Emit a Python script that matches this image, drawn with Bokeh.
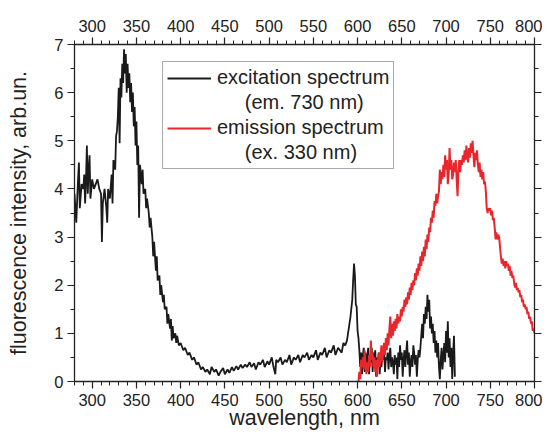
from bokeh.plotting import figure
from bokeh.models import LinearAxis, SingleIntervalTicker, Legend, LegendItem, Range1d
from bokeh.embed import file_html
from bokeh.resources import INLINE

# ---------------- data ----------------
exc_nm = [280, 282, 284, 285, 286, 288, 290, 291, 292, 293, 294, 295, 296, 297, 298, 300,
          302, 304, 306, 308, 310, 311, 312, 314, 316, 317, 318, 320, 322, 323, 324, 326,
          327, 328, 329, 330, 331, 332, 333, 334, 335, 336, 337, 338, 339, 340, 341, 342,
          343, 344, 345, 346, 347, 348, 349, 350, 351, 352, 353, 354, 356, 357, 358, 360,
          361, 362, 364, 365, 366, 368, 369, 370, 372, 373, 374, 376, 377, 378, 380, 381,
          382, 384, 385, 386, 388, 389, 390, 391, 392, 394, 395, 396, 398, 400, 403, 405,
          408, 410, 413, 415, 418, 420, 423, 425, 428, 430, 433, 435, 438, 440, 443, 445,
          448, 450, 453, 455, 458, 460, 463, 465, 468, 470, 473, 475, 478, 480, 483, 485,
          488, 490, 493, 495, 498, 500, 503, 505, 507, 508, 510, 513, 515, 518, 520, 523,
          525, 528, 530, 533, 535, 538, 540, 543, 545, 548, 550, 553, 555, 558, 560, 563,
          565, 568, 570, 573, 575, 578, 580, 582, 584, 586, 588, 590, 592, 594, 595, 596,
          597, 598, 599, 600] + list(range(601, 711))
exc_int = [3.9, 3.3, 4.2, 4.55, 3.6, 4.1, 4.0, 4.3, 3.7, 4.2, 4.9, 3.9, 4.4, 4.7, 3.8, 4.2,
           4.0, 4.1, 4.2, 4.0, 3.9, 2.9, 3.7, 4.0, 3.6, 3.3, 4.0, 3.8, 4.3, 3.7, 4.6, 4.4,
           5.1, 5.2, 5.5, 6.1, 4.95, 6.3, 5.9, 6.6, 6.2, 6.9, 6.4, 6.8, 6.0, 6.6, 6.1, 6.4,
           5.8, 6.2, 5.6, 6.0, 5.3, 5.7, 4.9, 5.4, 4.5, 4.9, 3.4, 4.5, 4.1, 4.4, 3.9, 4.0,
           3.6, 3.8, 3.5, 3.2, 3.4, 3.0, 2.6, 2.9, 2.3, 2.6, 2.1, 2.2, 1.8, 2.0, 1.65, 1.8,
           1.5, 1.55, 1.2, 1.4, 1.1, 1.3, 0.85, 1.15, 0.9, 1.0, 0.8, 0.95, 0.75, 0.8, 0.65, 0.7,
           0.55, 0.6, 0.45, 0.5, 0.35, 0.4, 0.25, 0.3, 0.2, 0.25, 0.15, 0.3, 0.2, 0.25, 0.12, 0.2,
           0.28, 0.15, 0.25, 0.18, 0.3, 0.22, 0.32, 0.25, 0.35, 0.28, 0.35, 0.3, 0.4, 0.3, 0.38, 0.25,
           0.4, 0.35, 0.45, 0.3, 0.42, 0.35, 0.5, 0.3, 0.15, 0.45, 0.4, 0.5, 0.35, 0.45, 0.4, 0.55,
           0.35, 0.5, 0.45, 0.55, 0.4, 0.55, 0.5, 0.6, 0.45, 0.55, 0.5, 0.65, 0.45, 0.6, 0.55, 0.7,
           0.5, 0.65, 0.6, 0.75, 0.55, 0.7, 0.65, 0.6, 0.8, 0.75, 0.85, 1.1, 1.35, 1.7, 2.1, 2.45,
           2.2, 1.6, 1.55, 1.05,
           0.9, 0.65, 0.3, 0.6, 0.15, 0.55, 0.7, 0.2, 0.6, 0.25,
           0.5, 0.7, 0.15, 0.55, 0.4, 0.7, 0.2, 0.6, 0.45, 0.65,
           0.1, 0.5, 0.4, 0.6, 0.15, 0.5, 0.3, 0.6, 0.45, 0.65,
           0.2, 0.5, 0.45, 0.6, 0.25, 0.55, 0.7, 0.3, 0.5, 0.4,
           0.15, 0.55, 0.35, 0.5, 0.05, 0.6, 0.3, 0.75, 0.45, 0.6,
           0.1, 0.45, 0.65, 0.3, 0.6, 0.85, 0.35, 0.6, 0.1, 0.4,
           0.55, 0.3, 0.75, 0.6, 0.35, 0.55, 0.1, 0.45, 0.65, 0.5,
           0.7, 0.95, 1.2, 0.9, 1.4, 1.2, 1.55, 1.3, 1.8, 1.45,
           1.7, 1.1, 1.35, 1.0, 1.2, 0.8, 1.05, 0.6, 0.85, 0.5,
           0.8, 0.3, 0.05, 0.45, 0.7, 0.25, 0.55, 0.8, 0.4, 1.05,
           0.6, 1.25, 0.5, 0.9, 0.3, 0.7, 0.05, 0.6, 0.95, 0.1]

emi_nm = list(range(601, 801))
emi_int = [0.0, 0.2, 0.05, 0.45, 0.3, 0.5, 0.25, 0.65, 0.35, 0.15,
           0.4, 0.2, 0.55, 0.3, 0.85, 0.45, 0.6, 0.3, 0.5, 0.2,
           0.45, 0.1, 0.4, 0.6, 0.3, 0.55, 0.75, 0.4, 0.65, 0.8,
           0.55, 0.9, 0.65, 1.0, 0.75, 1.1, 1.35, 0.9, 1.2, 0.95,
           1.25, 1.05, 1.3, 1.1, 1.4, 1.2, 1.35, 1.25, 1.5, 1.35,
           1.55, 1.45, 1.7, 1.55, 1.75, 1.6, 1.85, 1.7, 1.95, 1.8,
           2.05, 1.9, 2.1, 2.0, 2.25, 2.1, 2.35, 2.2, 2.45, 2.3,
           2.6, 2.4, 2.7, 2.5, 2.8, 2.6, 2.95, 2.75, 3.05, 2.9,
           3.2, 3.1, 3.4, 3.3, 3.55, 3.4, 3.75, 3.65, 3.9, 3.7,
           3.85, 3.95, 4.4, 4.1, 4.35, 4.2, 4.5, 4.25, 4.7, 4.4,
           4.6, 4.1, 4.3, 4.85, 4.4, 4.6, 4.2, 4.3, 4.55, 4.35,
           4.6, 4.2, 3.85, 4.4, 4.6, 4.35, 4.6, 4.5, 4.7, 4.55,
           4.8, 4.6, 4.9, 4.7, 4.55, 4.85, 4.65, 4.95, 4.75, 5.0,
           4.7, 4.45, 4.75, 4.6, 4.8, 4.5, 4.35, 4.55, 4.25, 4.4,
           4.2, 4.35, 4.1, 4.15, 3.95, 3.6, 3.5, 3.6, 3.55, 3.6,
           3.45, 3.55, 3.35, 3.4, 3.2, 2.95, 3.1, 2.95, 3.05, 3.0,
           2.8, 2.6, 2.45, 2.55, 2.4, 2.5, 2.35, 2.5, 2.4, 2.45,
           2.3, 2.4, 2.2, 2.3, 2.15, 2.2, 2.05, 1.95, 2.05, 1.9,
           1.95, 1.85, 1.9, 1.75, 1.8, 1.65, 1.7, 1.55, 1.6, 1.5,
           1.55, 1.4, 1.45, 1.3, 1.35, 1.2, 1.25, 1.05, 1.1, 1.0]

legend_labels = ["excitation spectrum", "(em. 730 nm)",
                 "emission spectrum", "(ex. 330 nm)"]
x_label = "wavelength, nm"
y_label = "fluorescence intensity, arb.un."

# ---------------- figure ----------------
FONT = "Liberation Sans"
AX = "#222222"

p = figure(width=542, height=433, output_backend="svg", toolbar_location=None,
           x_range=Range1d(280, 800), y_range=Range1d(0, 7),
           x_axis_location=None, y_axis_location=None,
           min_border_left=74, min_border_right=8, min_border_top=44,
           min_border_bottom=52)
p.outline_line_color = None
p.grid.grid_line_color = None
p.background_fill_color = "white"
p.border_fill_color = "white"


def style(ax, labels=True, standoff=4):
    ax.axis_line_color = AX
    ax.axis_line_width = 1.3
    ax.major_tick_line_color = AX
    ax.minor_tick_line_color = AX
    ax.major_tick_line_width = 1.2
    ax.minor_tick_line_width = 1.0
    ax.major_tick_in = 0
    ax.major_tick_out = 7
    ax.minor_tick_in = 0
    ax.minor_tick_out = 4
    ax.major_label_text_font = FONT
    ax.axis_label_text_font = FONT
    ax.axis_label_text_font_size = "21.5px"
    ax.axis_label_text_font_style = "normal"
    ax.axis_label_text_color = AX
    if labels:
        ax.major_label_text_color = AX
        ax.major_label_text_font_size = "16.5px"
        ax.major_label_standoff = standoff
    else:
        ax.major_label_text_color = None
        ax.major_label_text_alpha = 0
        ax.major_label_text_font_size = "1px"
        ax.major_label_standoff = 0


xt = SingleIntervalTicker(interval=50, num_minor_ticks=5)
yt = SingleIntervalTicker(interval=1, num_minor_ticks=2)

bottom = LinearAxis(ticker=xt, axis_label=x_label)
style(bottom, standoff=5)
bottom.axis_label_standoff = -3
top = LinearAxis(ticker=xt)
style(top, standoff=6)
left = LinearAxis(ticker=yt, axis_label=y_label)
style(left, standoff=4)
left.axis_label_standoff = 20
right = LinearAxis(ticker=yt)
style(right, labels=False)

p.add_layout(bottom, "below")
p.add_layout(top, "above")
p.add_layout(left, "left")
p.add_layout(right, "right")

r_exc = p.line(exc_nm, exc_int, line_color="#1a1a1a", line_width=1.8)
r_emi = p.line(emi_nm, emi_int, line_color="#e8262b", line_width=2.0)
r_blank = p.line([], [], line_alpha=0)

pad = "\u00a0" * 5
legend = Legend(items=[
    LegendItem(label=legend_labels[0], renderers=[r_exc]),
    LegendItem(label=pad + legend_labels[1], renderers=[r_blank]),
    LegendItem(label=legend_labels[2], renderers=[r_emi]),
    LegendItem(label=pad + legend_labels[3], renderers=[r_blank]),
], location=(88, 212), padding=4, spacing=2, margin=0,
    glyph_width=44, glyph_height=20, label_height=20, label_standoff=6,
    label_text_font=FONT, label_text_font_size="20px", label_text_color=AX,
    border_line_color="#555555", border_line_width=1,
    background_fill_color="white", background_fill_alpha=1)
p.add_layout(legend)

open("out.html", "w").write(file_html(p, INLINE))
